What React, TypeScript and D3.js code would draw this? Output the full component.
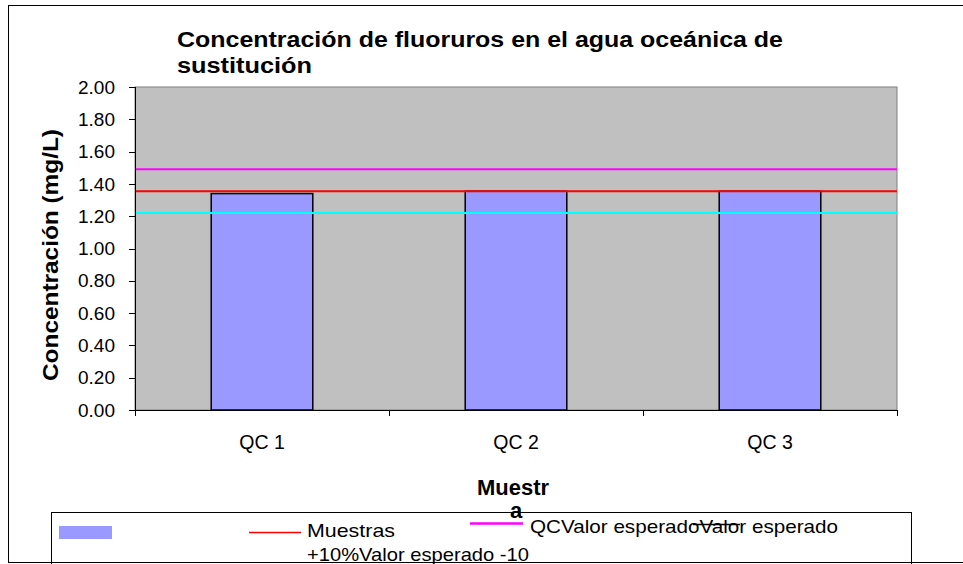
import { useEffect, useRef } from "react";
import * as d3 from "d3";

// Data
const categories = ["QC 1", "QC 2", "QC 3"];
const sampleValues = [1.34, 1.355, 1.355];
const expectedValue = [1.355, 1.355, 1.355];
const upperLimit = [1.49, 1.49, 1.49]; // +10%
const lowerLimit = [1.22, 1.22, 1.22]; // -10%
const yTicks = [0, 0.2, 0.4, 0.6, 0.8, 1.0, 1.2, 1.4, 1.6, 1.8, 2.0];

const titleLines = ["Concentración de fluoruros en el agua oceánica de", "sustitución"];
const yTitle = "Concentración (mg/L)";
const xTitleLines = ["Muestr", "a"];

export default function App() {
  const svgRef = useRef<SVGSVGElement>(null);

  useEffect(() => {
    if (!svgRef.current) return;
    const svg = d3.select(svgRef.current);
    svg.selectAll("*").remove();

    const width = 963;
    const height = 564;
    const plot = { left: 135, right: 897, top: 87, bottom: 410 };
    const font = "Arial, 'Liberation Sans', sans-serif";

    svg.attr("width", width).attr("height", height).style("font-family", font);

    // white chart area
    svg.append("rect")
      .attr("x", 8.5).attr("y", 5.5)
      .attr("width", 1000).attr("height", 557)
      .attr("fill", "#fff");

    const x = d3.scaleBand<string>()
      .domain(categories)
      .range([plot.left, plot.right])
      .paddingInner(0.6)
      .paddingOuter(0.3);

    const y = d3.scaleLinear().domain([0, 2]).range([plot.bottom, plot.top]);

    // plot area
    svg.append("rect")
      .attr("x", plot.left).attr("y", plot.top)
      .attr("width", plot.right - plot.left).attr("height", plot.bottom - plot.top)
      .attr("fill", "#C0C0C0")
      .attr("stroke", "#808080")
      .attr("stroke-width", 1);

    // bars
    svg.selectAll(".bar")
      .data(categories)
      .enter().append("rect")
      .attr("class", "bar")
      .attr("x", d => x(d)!)
      .attr("y", (d, i) => y(sampleValues[i]))
      .attr("width", x.bandwidth())
      .attr("height", (d, i) => y(0) - y(sampleValues[i]))
      .attr("fill", "#9999FF")
      .attr("stroke", "#000")
      .attr("stroke-width", 1.5);

    // reference lines
    const refLines = [
      { values: lowerLimit, color: "#00FFFF" },
      { values: upperLimit, color: "#FF00FF" },
      { values: expectedValue, color: "#FF0000" },
    ];
    refLines.forEach(r => {
      svg.append("line")
        .attr("x1", plot.left).attr("x2", plot.right)
        .attr("y1", y(r.values[0])).attr("y2", y(r.values[r.values.length - 1]))
        .attr("stroke", r.color)
        .attr("stroke-width", 2);
    });

    // y axis
    const yAxis = svg.append("g").attr("transform", `translate(${plot.left},0)`);
    yAxis.append("line")
      .attr("x1", 0.5).attr("x2", 0.5)
      .attr("y1", plot.top).attr("y2", plot.bottom)
      .attr("stroke", "#000");
    yTicks.forEach(t => {
      yAxis.append("line")
        .attr("x1", -6).attr("x2", 0)
        .attr("y1", Math.round(y(t)) + 0.5).attr("y2", Math.round(y(t)) + 0.5)
        .attr("stroke", "#000");
      yAxis.append("text")
        .attr("x", -20).attr("y", y(t))
        .attr("dy", "0.35em")
        .attr("text-anchor", "end")
        .style("font-size", "19px")
        .text(d3.format(".2f")(t));
    });

    // x axis
    svg.append("line")
      .attr("x1", plot.left).attr("x2", plot.right)
      .attr("y1", plot.bottom + 0.5).attr("y2", plot.bottom + 0.5)
      .attr("stroke", "#000");
    const bounds = categories.map(c => x(c)! + x.bandwidth() / 2 - x.step() / 2);
    bounds.push(plot.right);
    bounds.forEach(b => {
      svg.append("line")
        .attr("x1", Math.round(b) + 0.5).attr("x2", Math.round(b) + 0.5)
        .attr("y1", plot.bottom).attr("y2", plot.bottom + 6)
        .attr("stroke", "#000");
    });
    categories.forEach(c => {
      svg.append("text")
        .attr("x", x(c)! + x.bandwidth() / 2)
        .attr("y", 449)
        .attr("text-anchor", "middle")
        .style("font-size", "19.5px")
        .text(c);
    });

    // title
    svg.append("text")
      .attr("x", 177).attr("y", 46.5)
      .attr("textLength", 606).attr("lengthAdjust", "spacingAndGlyphs")
      .style("font-size", "22px").style("font-weight", "bold")
      .text(titleLines[0]);
    svg.append("text")
      .attr("x", 177).attr("y", 73)
      .attr("textLength", 135).attr("lengthAdjust", "spacingAndGlyphs")
      .style("font-size", "22px").style("font-weight", "bold")
      .text(titleLines[1]);

    // y title
    svg.append("text")
      .attr("transform", `translate(58,255) rotate(-90)`)
      .attr("text-anchor", "middle")
      .attr("textLength", 252).attr("lengthAdjust", "spacingAndGlyphs")
      .style("font-size", "22px").style("font-weight", "bold")
      .text(yTitle);

    // legend
    svg.append("rect")
      .attr("x", 51.5).attr("y", 512.5)
      .attr("width", 860).attr("height", 80)
      .attr("fill", "#fff").attr("stroke", "#000");

    // x title (drawn over legend border)
    svg.append("text")
      .attr("x", 513).attr("y", 495)
      .attr("text-anchor", "middle")
      .attr("textLength", 72).attr("lengthAdjust", "spacingAndGlyphs")
      .style("font-size", "22px").style("font-weight", "bold")
      .text(xTitleLines[0]);
    svg.append("text")
      .attr("x", 516).attr("y", 518)
      .attr("text-anchor", "middle")
      .style("font-size", "22px").style("font-weight", "bold")
      .text(xTitleLines[1]);

    svg.append("rect")
      .attr("x", 59).attr("y", 526)
      .attr("width", 53).attr("height", 13)
      .attr("fill", "#9999FF");
    svg.append("line")
      .attr("x1", 249).attr("x2", 301).attr("y1", 532.5).attr("y2", 532.5)
      .attr("stroke", "#FF0000").attr("stroke-width", 1.5);
    svg.append("line")
      .attr("x1", 470).attr("x2", 523).attr("y1", 523.5).attr("y2", 523.5)
      .attr("stroke", "#FF00FF").attr("stroke-width", 2.5);

    const legendTexts = [
      { text: "Muestras", x: 307, y: 537, len: 88 },
      { text: "+10%Valor esperado -10", x: 307, y: 560.5, len: 222 },
      { text: "QCValor esperadoValor esperado", x: 530, y: 532.7, len: 308 },
    ];
    legendTexts.forEach(t => {
      svg.append("text")
        .attr("x", t.x).attr("y", t.y)
        .attr("textLength", t.len).attr("lengthAdjust", "spacingAndGlyphs")
        .style("font-size", "19px")
        .text(t.text);
    });
    svg.append("line")
      .attr("x1", 693).attr("x2", 740).attr("y1", 524.5).attr("y2", 524.5)
      .attr("stroke", "#000").attr("stroke-width", 1.5);

    // chart border on top
    svg.append("rect")
      .attr("x", 8.5).attr("y", 5.5)
      .attr("width", 1000).attr("height", 557)
      .attr("fill", "none")
      .attr("stroke", "#000");
  }, []);

  return (
    <div style={{ position: "absolute", left: 0, top: 0 }}>
      <svg ref={svgRef} style={{ display: "block" }}></svg>
    </div>
  );
}
